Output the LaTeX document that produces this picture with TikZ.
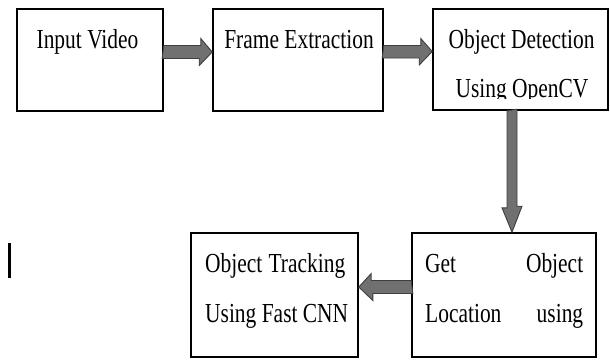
\documentclass[tikz,border=0pt]{standalone}
\usepackage{fontspec}
\setmainfont{Liberation Serif}[FakeStretch=0.78]
\usetikzlibrary{calc}
\definecolor{arrowfill}{RGB}{112,112,112}
\definecolor{arrowline}{RGB}{62,62,62}

\begin{document}
\begin{tikzpicture}[x=1pt, y=-1pt,
    box/.style={draw, line width=1.6pt, minimum width=#1, inner sep=0pt},
    lbl/.style={font=\fontsize{27.5}{30}\selectfont, inner sep=0pt},
    blockarrow/.style={fill=arrowfill, draw=arrowline, line width=0.9pt, line join=miter}]
    \useasboundingbox (0,0) rectangle (610,360);
    % boxes
    \node[box=146pt, minimum height=102pt] (input) at (90,60) {};
    \node[box=170pt, minimum height=102pt] (frame) at (298,60) {};
    \node[box=175pt, minimum height=101pt] (detect) at (520.5,59.5) {};
    \node[box=184pt, minimum height=124pt] (getloc) at (504,295) {};
    \node[box=167pt, minimum height=124pt] (track) at (274.5,295) {};
    % texts
    \node[lbl, anchor=base] (inputtxt) at (87.5,48) {Input Video};
    \node[lbl, anchor=base] (frametxt) at (299,48) {Frame Extraction};
    \node[lbl, anchor=base] (detecttxt) at (521.5,48) {Object Detection};
    \begin{scope}
        \clip (433,60) rectangle (608,98.5);
        \node[lbl, anchor=base] (detecttxtb) at (522,97) {Using OpenCV};
    \end{scope}
    \node[lbl, anchor=base west] (getloctxt) at (425,272) {\makebox[158pt]{Get\hfill Object}};
    \node[lbl, anchor=base west] (getloctxtb) at (425,322) {\makebox[158pt]{Location\hfill using}};
    \node[lbl, anchor=base west] (tracktxt) at (205,272) {\makebox[140pt]{Object\hfill Tracking}};
    \node[lbl, anchor=base west] (tracktxtb) at (205,322) {Using Fast CNN};
    % arrows
    \draw[blockarrow] ([yshift=8pt]input.east) ++(0,-6.5) -- ++(37,0) -- ++(0,-7)
        -- ([yshift=8pt]frame.west) -- ++(-13,13.5) -- ++(0,-7) -- ++(-37,0) -- cycle;
    \draw[blockarrow] ([yshift=8pt]frame.east) ++(0,-6.5) -- ++(37,0) -- ++(0,-7)
        -- ([yshift=8pt]detect.west) -- ++(-13,13.5) -- ++(0,-7) -- ++(-37,0) -- cycle;
    \draw[blockarrow] ([xshift=-8.5pt]detect.south) ++(-5,0) -- ++(0,97) -- ++(-5,0)
        -- ([xshift=8pt]getloc.north) -- ++(10,-26) -- ++(-5,0) -- ++(0,-97) -- cycle;
    \draw[blockarrow] ([yshift=8pt]getloc.west) ++(0,-6.5) -- ++(-40,0) -- ++(0,-7)
        -- ([yshift=8pt]track.east) -- ++(14,13.5) -- ++(0,-7) -- ++(40,0) -- cycle;
    % cursor mark
    \draw[line width=2.6pt] (9.5,243) -- (9.5,278);
\end{tikzpicture}
\end{document}
